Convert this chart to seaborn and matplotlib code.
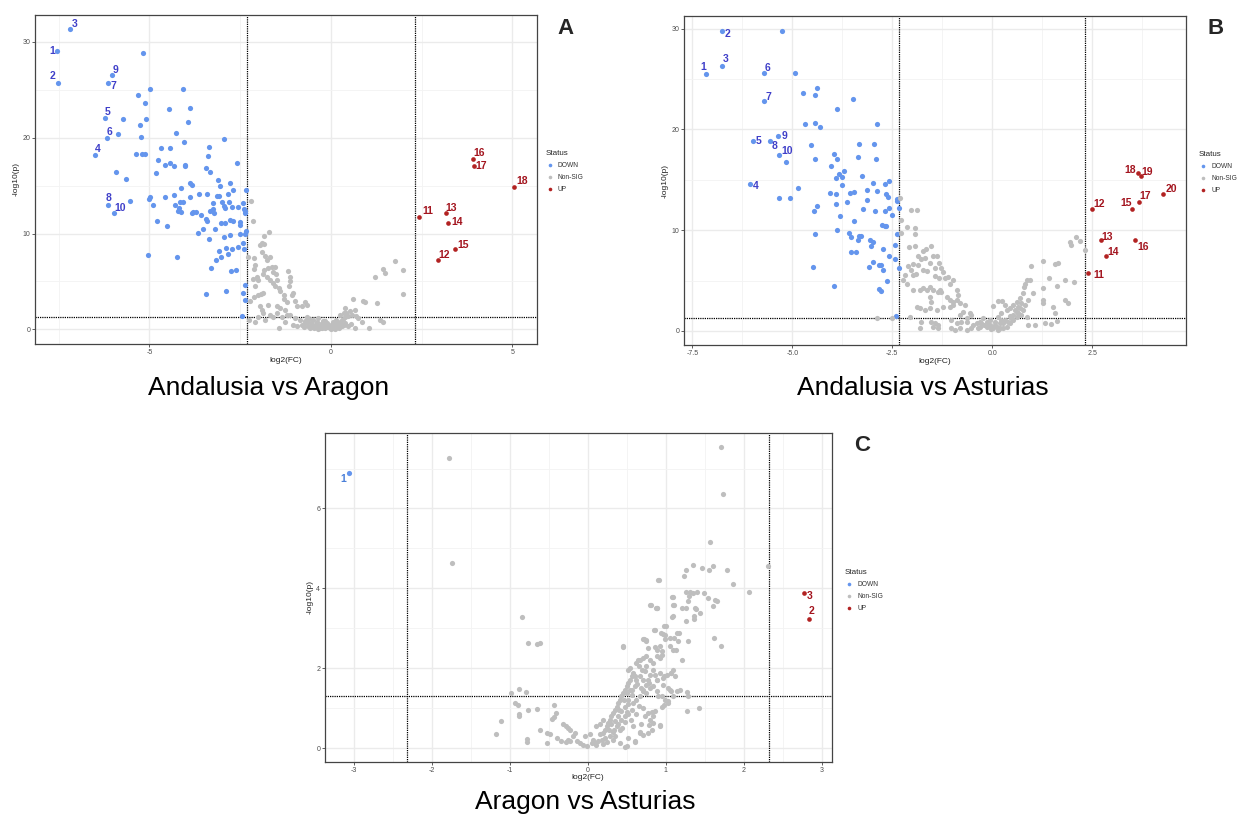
import matplotlib
matplotlib.use("Agg")
import matplotlib.pyplot as plt
import seaborn as sns
import pandas as pd
from matplotlib.lines import Line2D
from matplotlib.ticker import MultipleLocator, FormatStrFormatter

# ---------------------------------------------------------------- data
FC_CUT = 2.3219          # log2(5)
P_CUT = 1.3010           # -log10(0.05)
STATUS = ["DOWN", "Non-SIG", "UP"]

# Panel A : Andalusia vs Aragon
a_down_lab = [(1, -7.55, 29.0), (2, -7.53, 25.7), (3, -7.18, 31.3), (4, -6.49, 18.2),
              (5, -6.22, 22.1), (6, -6.16, 20.0), (7, -6.15, 25.7), (8, -6.14, 13.0),
              (9, -6.04, 26.5), (10, -5.98, 12.1)]
a_up_lab = [(11, 2.43, 11.7), (12, 2.94, 7.2), (13, 3.16, 12.1), (14, 3.22, 11.1),
            (15, 3.43, 8.4), (16, 3.93, 17.8), (17, 3.95, 17.0), (18, 5.06, 14.9)]
a_down = [(-5.17, 28.8), (-4.97, 25.1), (-4.08, 25.1), (-5.32, 24.5), (-5.12, 23.6), (-4.45, 23.0),
          (-3.87, 23.1), (-5.72, 22.0), (-5.08, 21.9), (-3.93, 21.6), (-5.27, 21.3), (-5.85, 20.4),
          (-4.27, 20.5), (-5.24, 20.1), (-2.93, 19.9), (-4.05, 19.5), (-3.37, 19.0), (-4.68, 18.9),
          (-4.44, 18.9), (-5.37, 18.3), (-5.20, 18.3), (-5.11, 18.3), (-3.38, 18.1), (-4.77, 17.7),
          (-4.44, 17.4), (-2.58, 17.4), (-4.57, 17.2), (-4.31, 17.0), (-4.02, 17.2), (-4.02, 17.0),
          (-3.44, 16.8), (-3.32, 16.4), (-5.91, 16.4), (-4.82, 16.3), (-5.63, 15.7), (-3.12, 15.6),
          (-3.87, 15.3), (-3.82, 15.1), (-2.79, 15.3), (-3.06, 15.0), (-2.69, 14.5), (-4.14, 14.7),
          (-2.33, 14.5), (-3.62, 14.1), (-3.42, 14.1), (-4.32, 14.0), (-3.89, 13.8), (-3.14, 13.9),
          (-3.07, 13.9), (-2.84, 14.1), (-4.57, 13.8), (-4.97, 13.8), (-5.00, 13.6), (-5.54, 13.4),
          (-4.15, 13.3), (-4.07, 13.3), (-3.25, 13.2), (-3.01, 13.3), (-2.80, 13.3), (-2.43, 13.2),
          (-4.90, 13.0), (-4.28, 13.0), (-4.17, 12.7), (-2.94, 12.9), (-2.56, 12.8), (-2.91, 12.7),
          (-2.72, 12.8), (-3.25, 12.6), (-3.34, 12.4), (-2.40, 12.6), (-2.37, 12.4), (-4.21, 12.3),
          (-4.14, 12.2), (-3.80, 12.2), (-3.71, 12.2), (-3.82, 12.1), (-3.21, 12.1), (-2.36, 12.1),
          (-3.58, 11.9), (-3.44, 11.5), (-2.70, 11.3), (-2.49, 11.2), (-3.40, 11.3), (-3.03, 11.1),
          (-2.92, 11.1), (-2.79, 11.4), (-4.80, 11.3), (-2.51, 10.9), (-4.52, 10.8), (-3.53, 10.5),
          (-3.19, 10.5), (-3.67, 10.1), (-2.50, 10.0), (-2.35, 10.3), (-2.36, 9.9), (-2.79, 9.8),
          (-2.95, 9.6), (-3.36, 9.4), (-2.42, 9.0), (-2.57, 8.6), (-2.89, 8.5), (-2.73, 8.4),
          (-2.40, 8.4), (-3.08, 8.2), (-2.83, 7.9), (-3.03, 7.6), (-5.05, 7.8), (-4.24, 7.5),
          (-3.15, 7.2), (-3.30, 6.4), (-2.74, 6.1), (-2.61, 6.2), (-2.36, 4.6), (-2.89, 4.0),
          (-3.43, 3.7), (-2.41, 3.8), (-2.37, 3.1), (-2.44, 1.4)]
a_ns = [(-2.20, 13.4), (-2.15, 11.3), (-1.70, 10.2), (-1.85, 9.7), (-1.96, 8.8), (-1.90, 9.0),
        (-1.84, 8.9), (-2.27, 7.5), (-2.13, 7.4), (-1.90, 8.1), (-1.81, 7.7), (-1.67, 7.6),
        (-1.76, 7.2), (-2.09, 6.7), (-2.11, 6.3), (-1.84, 6.2), (-1.72, 6.4), (-1.62, 6.5),
        (-1.53, 6.5), (-2.15, 5.3), (-2.04, 5.5), (-2.00, 5.1), (-2.09, 4.5), (-2.02, 3.6),
        (-1.93, 3.7), (-1.86, 3.8), (-1.58, 6.0), (-1.52, 5.8), (-1.49, 5.1), (-1.53, 4.5),
        (-1.40, 4.0), (-1.30, 3.6), (-1.17, 6.1), (-1.12, 5.5), (-1.12, 5.0), (-1.14, 4.5),
        (-1.07, 3.6), (-1.03, 3.8), (-1.86, 5.8), (-1.76, 5.5), (-1.67, 5.1), (-1.58, 4.8),
        (-1.44, 4.3), (-1.30, 3.2), (-1.21, 2.9), (-2.24, 3.0), (-2.13, 3.4), (-1.95, 2.4),
        (-1.90, 2.0), (-1.72, 2.5), (-1.49, 2.4), (-1.40, 2.2), (-1.26, 2.0), (-0.98, 3.0),
        (-0.94, 2.4), (-0.80, 2.4), (-0.71, 2.9), (-0.66, 2.5), (-2.00, 1.3), (-1.86, 1.7),
        (-1.67, 1.5), (-1.58, 1.3), (-1.49, 1.7), (-1.35, 1.3), (-1.21, 1.5), (-1.12, 1.5),
        (-0.98, 1.2), (-0.84, 1.0), (-0.66, 0.8), (-1.44, 0.1), (-0.94, 0.3), (-0.75, 0.6),
        (-0.66, 1.3), (-2.25, 1.0), (-2.10, 0.8), (-1.80, 1.0), (-1.25, 0.8), (-1.05, 0.5),
        (-0.80, 0.5), (-0.75, 0.2), (-0.70, 0.9), (-0.62, 0.4), (-0.57, 0.1), (-0.55, 0.7),
        (-0.50, 0.3), (-0.48, 1.0), (-0.44, 0.5), (-0.40, 0.2), (-0.38, 0.8), (-0.33, 0.4),
        (-0.30, 0.1), (-0.28, 0.6), (-0.25, 0.3), (-0.22, 0.9), (-0.20, 0.2), (-0.17, 0.5),
        (-0.15, 0.1), (-0.12, 0.4), (-0.10, 0.7), (-0.07, 0.2), (-0.05, 0.3), (-0.02, 0.1),
        (0.00, 0.5), (0.03, 0.2), (0.05, 0.4), (0.08, 0.1), (0.10, 0.6), (0.12, 0.3),
        (0.15, 0.2), (0.18, 0.8), (0.20, 0.4), (0.22, 0.1), (0.25, 0.6), (0.28, 0.9),
        (0.30, 0.3), (0.33, 1.1), (0.35, 0.5), (0.38, 0.7), (0.40, 1.3), (-0.60, 1.1),
        (-0.35, 1.2), (-0.15, 0.9), (0.05, 0.8), (0.15, 1.0), (-0.45, 0.1), (-0.35, 0.0),
        (-0.25, 0.1), (0.00, 0.0), (0.12, 0.0), (0.39, 2.2), (0.53, 1.9), (0.67, 2.0),
        (0.62, 3.2), (0.76, 1.2), (0.90, 3.0), (0.94, 2.9), (0.85, 0.8), (0.67, 0.1),
        (1.04, 0.1), (1.27, 2.8), (1.36, 1.0), (1.45, 0.8), (1.22, 5.5), (1.45, 6.3),
        (1.50, 5.9), (1.77, 7.1), (2.00, 6.2), (2.00, 3.7), (0.42, 1.7), (0.26, 1.5),
        (0.35, 1.7), (0.47, 1.4), (0.58, 1.5), (0.70, 1.4), (0.55, 0.6), (0.48, 0.3)]

# Panel B : Andalusia vs Asturias
b_down_lab = [(1, -7.15, 25.5), (2, -6.76, 29.8), (3, -6.76, 26.3), (4, -6.05, 14.6),
              (5, -5.98, 18.8), (6, -5.70, 25.6), (7, -5.70, 22.8), (8, -5.55, 18.8),
              (9, -5.37, 19.3), (10, -5.33, 17.5)]
b_up_lab = [(11, 2.41, 5.8), (12, 2.49, 12.1), (13, 2.73, 9.0), (14, 2.85, 7.4), (15, 3.51, 12.1),
            (16, 3.58, 9.0), (17, 3.67, 12.8), (18, 3.66, 15.7), (19, 3.72, 15.4), (20, 4.28, 13.6)]
b_down = [(-5.25, 29.8), (-4.93, 25.6), (-4.73, 23.6), (-4.42, 23.4), (-4.37, 24.1), (-3.47, 23.0),
          (-3.88, 22.0), (-4.69, 20.5), (-4.42, 20.6), (-4.30, 20.2), (-2.87, 20.5), (-4.52, 18.5),
          (-3.32, 18.6), (-2.95, 18.6), (-3.95, 17.6), (-3.89, 17.1), (-4.42, 17.1), (-3.35, 17.3),
          (-2.91, 17.1), (-5.16, 16.8), (-4.02, 16.4), (-3.70, 15.9), (-3.82, 15.6), (-3.90, 15.2),
          (-3.76, 15.3), (-3.25, 15.4), (-2.58, 14.9), (-2.68, 14.6), (-2.98, 14.7), (-3.76, 14.5),
          (-4.86, 14.2), (-3.14, 14.0), (-2.88, 13.9), (-4.06, 13.7), (-3.55, 13.7), (-3.45, 13.8),
          (-3.91, 13.6), (-2.65, 13.6), (-2.61, 13.3), (-5.33, 13.2), (-5.06, 13.2), (-2.37, 13.1),
          (-2.37, 12.9), (-3.12, 13.0), (-3.63, 12.8), (-3.91, 12.6), (-4.38, 12.4), (-4.46, 11.9),
          (-2.59, 12.2), (-2.69, 11.9), (-2.92, 11.9), (-3.23, 12.1), (-2.34, 12.2), (-2.50, 11.5),
          (-3.80, 11.4), (-3.45, 10.9), (-2.76, 10.5), (-2.69, 10.4), (-2.65, 10.4), (-3.88, 10.0),
          (-3.58, 9.7), (-3.52, 9.3), (-3.34, 9.4), (-3.29, 9.4), (-4.42, 9.6), (-2.39, 9.6),
          (-3.36, 9.0), (-3.05, 9.0), (-2.97, 8.8), (-3.04, 8.4), (-2.42, 8.5), (-2.74, 8.1),
          (-3.53, 7.8), (-3.40, 7.8), (-2.57, 7.4), (-2.44, 7.1), (-2.97, 6.8), (-3.08, 6.3),
          (-2.83, 6.5), (-2.79, 6.5), (-2.72, 6.1), (-2.33, 6.2), (-4.47, 6.3), (-2.64, 5.0),
          (-2.83, 4.2), (-2.79, 4.0), (-3.96, 4.5), (-2.40, 1.5)]
b_ns = [(-2.87, 1.26), (-2.50, 1.25), (-2.31, 13.2), (-2.04, 12.05), (-1.87, 12.0), (-2.29, 11.0),
        (-2.14, 10.3), (-1.92, 10.2), (-2.29, 9.7), (-1.92, 9.6), (-2.07, 8.3), (-1.93, 8.4),
        (-1.72, 7.9), (-1.66, 8.1), (-1.52, 8.4), (-1.85, 7.4), (-1.77, 7.1), (-1.68, 7.2),
        (-1.47, 7.4), (-1.37, 7.4), (-2.10, 6.4), (-2.02, 6.1), (-1.97, 6.65), (-1.85, 6.55),
        (-1.56, 6.78), (-1.32, 6.78), (-1.72, 6.05), (-1.64, 6.0), (-1.43, 6.2), (-1.27, 6.2),
        (-1.22, 5.9), (-2.18, 5.6), (-2.22, 5.06), (-2.14, 4.7), (-1.97, 5.6), (-1.91, 5.65),
        (-1.43, 5.5), (-1.32, 5.3), (-1.18, 5.3), (-1.10, 5.4), (-1.97, 4.07), (-1.81, 4.07),
        (-1.72, 4.24), (-1.64, 4.07), (-1.56, 4.4), (-1.47, 4.07), (-1.35, 3.9), (-1.31, 4.07),
        (-1.27, 3.9), (-1.06, 4.7), (-0.97, 5.06), (-0.89, 4.07), (-1.56, 3.4), (-1.52, 2.9),
        (-1.14, 3.4), (-1.06, 3.08), (-0.97, 2.9), (-0.89, 3.08), (-0.85, 3.57), (-0.81, 2.75),
        (-0.68, 2.58), (-1.89, 2.41), (-1.81, 2.25), (-1.68, 2.08), (-1.56, 2.25), (-1.39, 2.08),
        (-1.22, 2.41), (-1.06, 2.41), (-0.97, 2.58), (-0.72, 1.91), (-0.56, 1.75), (-0.52, 1.59),
        (-0.64, 1.26), (-0.81, 1.59), (-2.06, 1.42), (-1.77, 0.93), (-1.52, 0.93), (-1.43, 0.76),
        (-1.35, 0.6), (-1.02, 1.09), (-0.89, 0.76), (-0.77, 0.93), (-0.64, 0.93), (-0.47, 0.6),
        (-0.39, 0.76), (-0.31, 0.93), (-1.81, 0.26), (-1.47, 0.43), (-1.35, 0.26), (-1.02, 0.26),
        (-0.93, 0.1), (-0.81, 0.26), (-0.64, 0.1), (-0.52, 0.26), (0.03, 2.48), (0.15, 2.97),
        (0.25, 2.97), (0.32, 2.58), (0.36, 2.08), (0.44, 2.25), (0.53, 2.58), (0.61, 2.9),
        (0.69, 3.24), (0.78, 3.74), (0.79, 4.4), (0.82, 4.7), (0.86, 5.06), (0.94, 5.06),
        (1.01, 3.74), (0.90, 3.08), (0.82, 2.58), (0.78, 2.08), (0.73, 1.59), (0.61, 1.42),
        (0.53, 1.09), (0.44, 0.76), (0.36, 0.43), (0.28, 0.26), (0.15, 0.1), (0.03, 0.26),
        (-0.06, 0.6), (-0.14, 0.93), (-0.22, 1.26), (-0.27, 0.76), (0.07, 0.93), (0.15, 1.42),
        (0.23, 1.75), (0.32, 1.09), (0.44, 1.49), (0.57, 2.08), (0.65, 2.41), (-0.14, 0.43),
        (-0.06, 1.09), (0.07, 0.6), (0.11, 0.43), (0.19, 0.76), (0.23, 1.09), (0.28, 0.76),
        (0.40, 0.93), (0.48, 1.26), (0.53, 1.59), (0.61, 1.91), (0.69, 2.25), (0.73, 2.75),
        (0.65, 1.75), (0.19, 0.26), (-0.02, 0.15), (-0.21, 0.6), (-0.35, 0.26), (-0.31, 0.43),
        (0.86, 1.42), (0.90, 0.6), (1.07, 0.6), (1.28, 4.24), (1.28, 3.08), (1.26, 2.75),
        (0.98, 6.45), (1.28, 6.98), (1.43, 5.3), (1.57, 6.65), (1.65, 6.78), (1.61, 4.5),
        (1.82, 5.06), (1.83, 3.08), (1.90, 2.75), (2.05, 4.9), (1.96, 8.86), (1.98, 8.5),
        (2.09, 9.3), (2.19, 8.96), (2.32, 8.0), (1.53, 2.41), (1.58, 1.82), (1.32, 0.83),
        (1.47, 0.66), (1.61, 1.0)]

# Panel C : Aragon vs Asturias
c_down_lab = [(1, -3.06, 6.88)]
c_up_lab = [(2, 2.83, 3.23), (3, 2.77, 3.89)]
c_down = []
c_ns = [(-1.78, 7.26), (-1.74, 4.63), (-0.84, 3.29), (-0.77, 2.63), (-0.65, 2.60), (-0.62, 2.63),
        (-0.88, 1.48), (-0.79, 1.40), (-0.99, 1.37), (-0.93, 1.12), (-0.89, 1.08), (-0.77, 0.94),
        (-0.65, 0.98), (-0.44, 1.08), (-0.88, 0.84), (-0.88, 0.79), (-0.41, 0.88), (-0.44, 0.78),
        (-1.12, 0.67), (-1.18, 0.35), (-0.78, 0.22), (-0.78, 0.16), (-0.615, 0.46), (-0.53, 0.38),
        (-0.48, 0.34), (-0.466, 0.73), (-0.32, 0.59), (-0.28, 0.54), (-0.25, 0.50), (-0.23, 0.46),
        (-0.17, 0.38), (-0.19, 0.29), (-0.26, 0.21), (-0.28, 0.14), (-0.34, 0.17), (-0.40, 0.25),
        (-0.53, 0.13), (-0.23, 0.17), (-0.145, 0.17), (-0.10, 0.13), (-0.06, 0.08), (-0.017, 0.04),
        (-0.04, 0.29), (0.026, 0.34), (0.068, 0.21), (0.09, 0.13), (0.13, 0.17), (0.175, 0.21),
        (0.197, 0.38), (0.218, 0.46), (0.24, 0.54), (0.26, 0.63), (0.28, 0.71), (0.30, 0.79),
        (0.325, 0.88), (0.346, 0.96), (0.37, 1.04), (0.39, 1.13), (0.41, 1.21), (0.43, 1.30),
        (0.45, 1.38), (0.474, 1.46), (0.496, 1.55), (0.517, 1.63), (0.54, 1.71), (0.56, 1.80),
        (0.58, 1.88), (0.517, 1.96), (0.54, 2.00), (0.62, 2.13), (0.645, 2.21), (0.667, 2.21),
        (0.71, 2.26), (0.75, 2.30), (0.795, 2.21), (0.84, 2.13), (0.88, 2.30), (0.92, 2.26),
        (0.945, 2.34), (0.84, 1.96), (0.86, 1.84), (0.92, 1.88), (0.966, 1.75), (1.01, 1.84),
        (1.07, 1.88), (1.115, 1.80), (0.84, 1.55), (0.88, 1.42), (0.945, 1.30), (0.987, 1.21),
        (1.03, 1.13), (0.945, 1.04), (0.86, 0.92), (0.774, 0.88), (0.71, 1.00), (0.73, 0.79),
        (0.795, 0.71), (0.84, 0.63), (0.92, 0.54), (0.816, 0.46), (0.774, 0.38), (0.667, 0.38),
        (0.60, 0.17), (0.496, 0.04), (0.41, 0.13), (0.325, 0.21), (0.28, 0.29), (0.15, 0.34),
        (0.11, 0.54), (0.15, 0.59), (0.197, 0.71), (0.30, 0.59), (0.346, 0.67), (0.37, 0.54),
        (0.41, 0.46), (0.43, 0.71), (0.474, 0.79), (0.517, 0.84), (0.56, 0.96), (0.58, 1.13),
        (0.62, 1.21), (0.667, 1.30), (0.71, 1.42), (0.56, 1.34), (0.517, 1.21), (0.474, 1.04),
        (0.43, 0.92), (0.39, 0.79), (0.496, 1.38), (0.54, 1.46), (0.60, 1.55), (0.62, 1.71),
        (0.60, 1.80), (0.667, 1.80), (0.73, 1.92), (0.75, 2.05), (0.795, 1.84), (0.774, 1.71),
        (0.71, 1.71), (0.75, 1.59), (0.795, 1.50), (0.88, 1.71), (0.966, 1.59), (1.03, 1.50),
        (1.07, 1.42), (1.09, 1.30), (1.14, 1.42), (0.45, 2.53), (0.72, 2.73), (0.75, 2.70),
        (0.774, 2.50), (0.86, 2.53), (0.88, 2.46), (0.92, 2.55), (0.945, 2.42), (0.86, 2.95),
        (0.966, 2.86), (0.987, 2.73), (1.00, 3.05), (1.05, 2.55), (1.09, 2.46), (1.10, 2.76),
        (1.14, 2.88), (1.16, 2.67), (1.085, 3.28), (1.09, 3.57), (1.085, 3.78), (0.81, 3.57),
        (0.88, 3.51), (0.905, 4.21), (1.71, 7.53), (1.73, 6.35), (1.57, 5.17), (2.31, 4.55),
        (2.06, 3.91), (1.86, 4.11), (1.79, 4.45), (1.61, 4.55), (1.55, 4.47), (1.46, 4.51),
        (1.35, 4.59), (1.26, 4.47), (1.23, 4.30), (0.91, 4.22), (1.26, 3.91), (1.31, 3.91),
        (1.35, 3.88), (1.40, 3.90), (1.49, 3.88), (1.54, 3.76), (1.63, 3.71), (1.65, 3.67),
        (1.30, 3.80), (1.29, 3.67), (1.09, 3.78), (1.10, 3.59), (0.80, 3.58), (0.87, 3.51),
        (0.89, 3.50), (1.21, 3.51), (1.26, 3.51), (1.37, 3.51), (1.38, 3.47), (1.44, 3.38),
        (1.36, 3.22), (1.36, 3.30), (1.61, 3.55), (1.26, 3.17), (1.09, 3.30), (0.98, 3.05),
        (0.85, 2.95), (0.94, 2.88), (0.99, 2.84), (1.05, 2.76), (1.17, 2.88), (1.62, 2.76),
        (1.71, 2.56), (1.29, 2.67), (0.71, 2.74), (0.75, 2.67), (0.45, 2.55), (1.13, 2.46),
        (1.21, 2.21), (1.09, 1.96), (1.07, 1.88), (0.97, 1.80), (0.88, 1.71), (0.79, 1.63),
        (0.71, 1.46), (0.75, 1.38), (0.90, 1.30), (1.05, 1.46), (1.18, 1.46), (1.27, 1.40),
        (1.29, 1.30), (1.27, 0.92), (1.43, 0.99), (0.97, 1.09), (1.03, 1.17), (0.82, 0.89),
        (0.84, 0.79), (0.79, 0.58), (0.92, 0.58), (0.71, 0.33), (0.67, 0.41), (0.60, 0.16),
        (0.52, 0.25), (0.47, 0.02), (0.20, 0.10), (0.25, 0.15), (0.32, 0.40), (0.35, 0.30),
        (0.38, 0.60), (0.44, 0.50), (0.48, 0.65), (0.50, 0.90), (0.55, 0.70), (0.58, 0.55),
        (0.62, 0.85), (0.65, 1.05), (0.68, 0.60), (0.52, 1.10), (0.46, 1.20), (0.40, 0.95),
        (0.34, 0.45), (0.27, 0.45), (0.22, 0.25), (0.10, 0.08), (0.05, 0.12), (0.57, 1.45),
        (0.63, 1.60), (0.68, 1.50), (0.70, 1.95), (0.66, 2.05)]

# ---------------------------------------------------------------- style
PALETTE = {"DOWN": "#6495ED", "Non-SIG": "#BEBEBE", "UP": "#B22222"}
LABEL_COLOR = {"DOWN": "#3F3FC9", "UP": "#A3141E"}
LINE_KW = dict(color="black", lw=0.9, ls=(0, (1, 0.8)), zorder=2)

# label offsets in pixels (dx, dy) of label centre from its point
a_off = {1: (-5, 0), 2: (-5, 7), 3: (4, 5), 4: (2, 6), 5: (3, 6), 6: (2, 6), 7: (6, -3),
         8: (1, 7), 9: (4, 5), 10: (6, 5), 11: (9, 6), 12: (7, 5), 13: (6, 5), 14: (9, 1),
         15: (8, 4), 16: (6, 6), 17: (7, 0), 18: (8, 6)}
b_off = {1: (-3, 7), 2: (6, -3), 3: (4, 7), 4: (5, -2), 5: (5, 0), 6: (3, 5), 7: (4, 4),
         8: (4, -5), 9: (7, 0), 10: (8, 4), 11: (10, -2), 12: (7, 5), 13: (6, 3), 14: (7, 4),
         15: (-6, 6), 16: (8, -7), 17: (6, 6), 18: (-8, 3), 19: (6, 4), 20: (8, 5)}
c_off = {1: (-6, -6), 2: (3, 8), 3: (6, -3)}

sns.set_style("white")
plt.rcParams["font.family"] = ["Liberation Sans", "DejaVu Sans"]
plt.rcParams["axes.unicode_minus"] = False


def build_frame(down, ns, up, down_lab, up_lab):
    rows = [(x, y, "DOWN") for x, y in down]
    rows += [(x, y, "DOWN") for _, x, y in down_lab]
    rows += [(x, y, "Non-SIG") for x, y in ns]
    rows += [(x, y, "UP") for _, x, y in up_lab]
    return pd.DataFrame(rows, columns=["log2FC", "nlog10p", "Status"])


def draw_panel(ax, df, down_lab, up_lab, offsets, xlim, ylim, xmaj, ymaj, xfmt,
               size, lab_down_color):
    ax.set_facecolor("white")
    for s in ["DOWN", "Non-SIG", "UP"]:
        sub = df[df["Status"] == s]
        if len(sub):
            sns.scatterplot(data=sub, x="log2FC", y="nlog10p", color=PALETTE[s],
                            s=size if s != "UP" else size * 0.8, linewidth=0,
                            legend=False, ax=ax, zorder=3)
    ax.axvline(-FC_CUT, **LINE_KW)
    ax.axvline(FC_CUT, **LINE_KW)
    ax.axhline(P_CUT, **LINE_KW)
    for pid, x, y in down_lab:
        dx, dy = offsets[pid]
        ax.annotate(str(pid), (x, y), xytext=(dx, dy), textcoords="offset pixels",
                    ha="center", va="center", fontsize=7.5, fontweight="bold",
                    color=lab_down_color, zorder=4)
    for pid, x, y in up_lab:
        dx, dy = offsets[pid]
        ax.annotate(str(pid), (x, y), xytext=(dx, dy), textcoords="offset pixels",
                    ha="center", va="center", fontsize=7.5, fontweight="bold",
                    color=LABEL_COLOR["UP"], zorder=4)
    ax.set_xlim(*xlim)
    ax.set_ylim(*ylim)
    ax.xaxis.set_major_locator(MultipleLocator(xmaj))
    ax.xaxis.set_minor_locator(MultipleLocator(xmaj / 2))
    ax.yaxis.set_major_locator(MultipleLocator(ymaj))
    ax.yaxis.set_minor_locator(MultipleLocator(ymaj / 2))
    ax.xaxis.set_major_formatter(FormatStrFormatter(xfmt))
    ax.grid(which="major", color="#EBEBEB", lw=1.0, zorder=0)
    ax.grid(which="minor", color="#F3F3F3", lw=0.6, zorder=0)
    ax.set_axisbelow(True)
    for sp in ax.spines.values():
        sp.set_color("#444444")
        sp.set_linewidth(0.9)
    ax.tick_params(axis="both", which="major", length=2, width=0.6, color="#444444",
                   labelsize=5, labelcolor="#4D4D4D", pad=1.5, bottom=True, left=True)
    ax.tick_params(which="minor", length=0)
    ax.set_xlabel("log2(FC)", fontsize=6, labelpad=1, color="#222222")
    ax.set_ylabel("-log10(p)", fontsize=6, labelpad=2, color="#222222")


W, H = 1248, 816
fig = plt.figure(figsize=(W / 100, H / 100), dpi=100)


def px_axes(l, t, r, b):
    return fig.add_axes([l / W, 1 - b / H, (r - l) / W, (b - t) / H])


axA = px_axes(35, 15, 537, 344)
axB = px_axes(684, 16, 1186, 345)
axC = px_axes(325, 433, 832, 762)

dfA = build_frame(a_down, a_ns, [], a_down_lab, a_up_lab)
dfB = build_frame(b_down, b_ns, [], b_down_lab, b_up_lab)
dfC = build_frame(c_down, c_ns, [], c_down_lab, c_up_lab)

draw_panel(axA, dfA, a_down_lab, a_up_lab, a_off, (-8.15, 5.68), (-1.53, 32.8), 5, 10,
           "%d", 14, LABEL_COLOR["DOWN"])
draw_panel(axB, dfB, b_down_lab, b_up_lab, b_off, (-7.71, 4.85), (-1.39, 31.25), 2.5, 10,
           "%.1f", 14, LABEL_COLOR["DOWN"])
draw_panel(axC, dfC, c_down_lab, c_up_lab, c_off, (-3.37, 3.13), (-0.35, 7.89), 1, 2,
           "%d", 14, "#4A7FD8")
axC.xaxis.set_label_coords(0.518, -0.035)


def legend_at(x, y):
    handles = [Line2D([], [], ls="", marker="o", ms=2.6, mec="none", mfc=PALETTE[s])
               for s in STATUS]
    leg = fig.legend(handles, STATUS, title="Status", loc="upper left",
                     bbox_to_anchor=(x / W, 1 - y / H), frameon=False, fontsize=4.8,
                     title_fontsize=5.8, handletextpad=0.6, labelspacing=0.75,
                     borderpad=0, borderaxespad=0, handlelength=1.2)
    leg._legend_box.align = "left"
    for t in leg.get_texts():
        t.set_color("#333333")
    return leg


legend_at(546, 150)
legend_at(1199, 151)
legend_at(845, 569)

fig.text(565 / W, 1 - 28 / H, "A", fontsize=16, fontweight="bold", ha="center", va="center")
fig.text(1216 / W, 1 - 28 / H, "B", fontsize=16, fontweight="bold", ha="center", va="center")
fig.text(862 / W, 1 - 446 / H, "C", fontsize=16, fontweight="bold", ha="center", va="center")

fig.text(269 / W, 1 - 388 / H, "Andalusia vs Aragon", fontsize=19, ha="center", va="center",
         color="black")
fig.text(923 / W, 1 - 388 / H, "Andalusia vs Asturias", fontsize=19, ha="center", va="center",
         color="black")
fig.text(585 / W, 1 - 802 / H, "Aragon vs Asturias", fontsize=19, ha="center", va="center",
         color="black")

fig.savefig("out.png", dpi=100, facecolor="white")
